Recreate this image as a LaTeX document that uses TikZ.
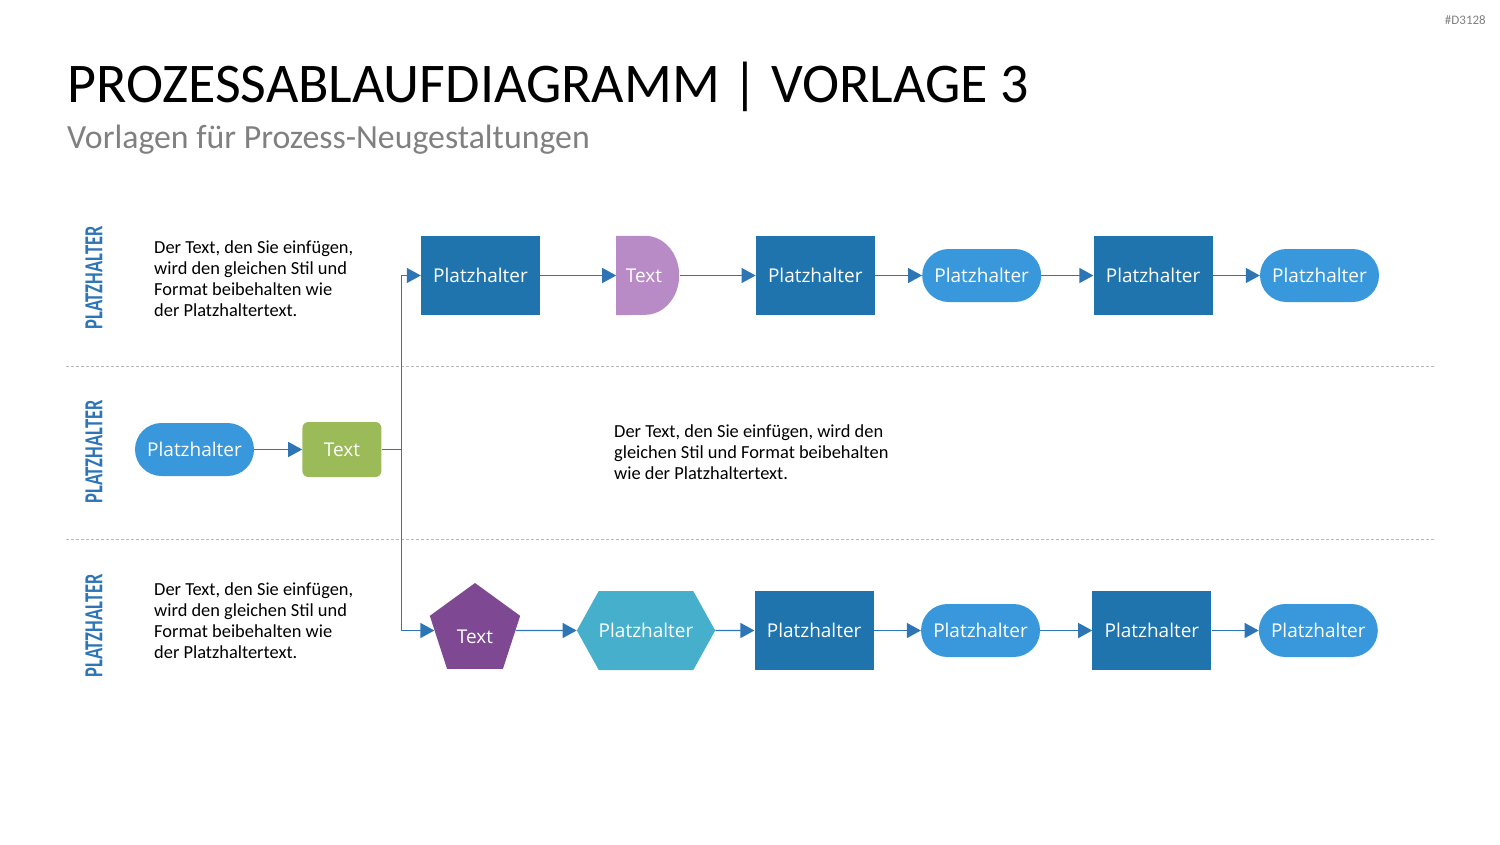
\documentclass[tikz,border=0pt]{standalone}
\usepackage{fontspec}
\setmainfont{Carlito}
\newfontfamily\boxfont{Open Sans}
\newfontfamily\lanefont[FakeStretch=0.71]{Carlito}
\usetikzlibrary{arrows.meta,positioning,shapes.geometric,shapes.symbols,backgrounds}
\definecolor{rectblue}{RGB}{31,116,174}
\definecolor{pillblue}{RGB}{56,152,219}
\definecolor{lilac}{RGB}{184,139,198}
\definecolor{olivegrn}{RGB}{155,187,89}
\definecolor{pentviolet}{RGB}{126,73,146}
\definecolor{hexteal}{RGB}{70,176,204}
\definecolor{flowblue}{RGB}{46,117,182}
\definecolor{subgray}{RGB}{128,128,128}

\begin{document}
\begin{tikzpicture}[x=1pt,y=-1pt,>={Triangle[length=14pt,width=15pt]},
  every node/.style={inner sep=0pt},
  boxtxt/.style={text=white,font=\boxfont\fontsize{19}{22}\selectfont},
  rectbox/.style={boxtxt,fill=rectblue,minimum width=119pt,minimum height=79pt},
  pill/.style={boxtxt,fill=pillblue,rounded corners=26.5pt,minimum width=119pt,minimum height=53pt},
  dnode/.style={boxtxt,minimum width=63pt,minimum height=79pt},
  greenbox/.style={boxtxt,fill=olivegrn,rounded corners=6pt,minimum width=79pt,minimum height=55pt},
  pentnode/.style={boxtxt,regular polygon,regular polygon sides=5,fill=pentviolet,minimum size=95pt,text height=25.5pt,text depth=0pt},
  hexnode/.style={boxtxt,signal,signal to=west and east,signal pointer angle=122,fill=hexteal,minimum width=133pt,minimum height=79pt},
  lane/.style={rotate=90,text=flowblue,font=\lanefont\bfseries\fontsize{26}{28}\selectfont},
  note/.style={anchor=base west,align=left,font=\fontsize{18.4}{21}\selectfont},
  flow/.style={draw=flowblue,line width=1.3pt,->},
  sepline/.style={draw=black!28,line width=0.8pt,dash pattern=on 3pt off 2pt}]
\useasboundingbox (0,0) rectangle (1500,844);
\node[anchor=east,text=subgray,font=\fontsize{13}{15}\selectfont] (tag) at (1486,20) {\#D3128};
\node[anchor=base west,font=\fontsize{56}{60}\selectfont] (title) at (67,102) {PROZESSABLAUFDIAGRAMM | VORLAGE 3};
\node[anchor=base west,text=subgray,font=\fontsize{33.8}{36}\selectfont] (subtitle) at (67,148) {Vorlagen für Prozess-Neugestaltungen};
\draw[sepline] (66,366) -- (1434,366);
\draw[sepline] (66,539) -- (1434,539);
\node[lane] (lane1) at (94,278) {PLATZHALTER};
\node[lane] (lane2) at (94,452) {PLATZHALTER};
\node[lane] (lane3) at (94,626) {PLATZHALTER};
\node[note] (txt1) at (154,316) {Der Text, den Sie einfügen,\\wird den gleichen Stil und\\Format beibehalten wie\\der Platzhaltertext.};
\node[note] (txt2) at (614,479) {Der Text, den Sie einfügen, wird den\\gleichen Stil und Format beibehalten\\wie der Platzhaltertext.};
\node[note] (txt3) at (154,658) {Der Text, den Sie einfügen,\\wird den gleichen Stil und\\Format beibehalten wie\\der Platzhaltertext.};
\node[rectbox] (t1) at (480.5,275.5) {Platzhalter};
\node[dnode,right=76pt of t1] (t2) {\hspace*{-8pt}Text};
\node[rectbox,right=76pt of t2] (t3) {Platzhalter};
\node[pill,right=47pt of t3] (t4) {Platzhalter};
\node[rectbox,right=52pt of t4] (t5) {Platzhalter};
\node[pill,right=47pt of t5] (t6) {Platzhalter};
\node[pill] (m1) at (194.5,449.5) {Platzhalter};
\node[greenbox,right=48pt of m1] (m2) {Text};
\coordinate[right=20pt of m2] (jct);
\node[pentnode] (b1) at (475,630.5) {Text};
\node[hexnode,right=61pt of b1] (b2) {Platzhalter};
\node[rectbox,right=39pt of b2] (b3) {Platzhalter};
\node[pill,right=47pt of b3] (b4) {Platzhalter};
\node[rectbox,right=52pt of b4] (b5) {Platzhalter};
\node[pill,right=47pt of b5] (b6) {Platzhalter};
\begin{scope}[on background layer]
\fill[lilac] (t2.north west) -- ([xshift=29pt]t2.north west) arc[start angle=90,end angle=-90,x radius=34pt,y radius=39.5pt] -- (t2.south west) -- cycle;
\end{scope}
\draw[flow] (t1) -- (t2);
\draw[flow] (t2) -- (t3);
\draw[flow] (t3) -- (t4);
\draw[flow] (t4) -- (t5);
\draw[flow] (t5) -- (t6);
\draw[flow] (m1) -- (m2);
\draw[flow,-] (m2) -- (jct);
\draw[flow] (jct) |- (t1.west);
\draw[flow] (jct) |- (b1.west);
\draw[flow] (b1) -- (b2);
\draw[flow] (b2) -- (b3);
\draw[flow] (b3) -- (b4);
\draw[flow] (b4) -- (b5);
\draw[flow] (b5) -- (b6);
\end{tikzpicture}
\end{document}
